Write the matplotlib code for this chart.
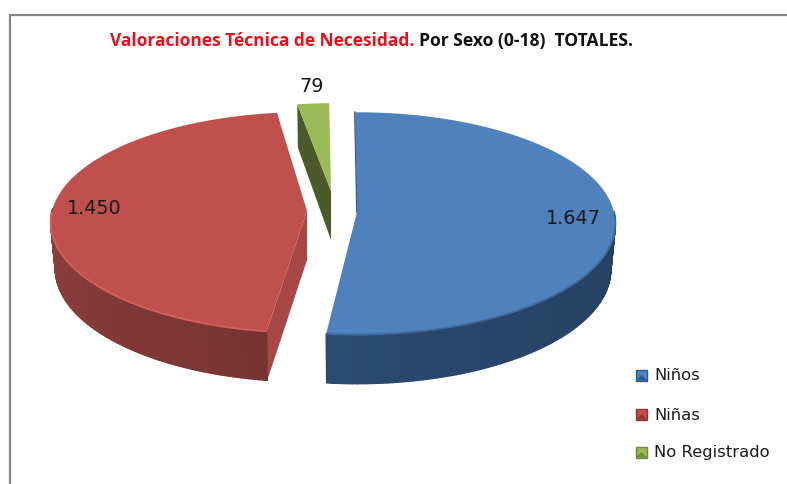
import numpy as np
import matplotlib
matplotlib.use('Agg')
import matplotlib.pyplot as plt
from matplotlib.collections import PolyCollection
from matplotlib.colors import to_rgb
from matplotlib.patches import Polygon, Rectangle

# Data
categories = ['Niños', 'Niñas', 'No Registrado']
values = [1647, 1450, 79]

# Look of each slice: top, radial face, side at both ends of the arc, rim
top_colors = ['#4f81bd', '#c0504d', '#9bbb59']
face_colors = ['#2a4a70', '#a64846', '#4a5a28']
side_start = ['#1e3450', '#773433', '#4a5a28']
side_end = ['#2b4a70', '#a54a48', '#4a5a28']
rim_colors = ['#41699a', '#d2625e', '#9bbb59']

# Exploded apex of each slice in pixels, radius scale, small angle twist
apex_x = [357, 307, 331]
apex_y = [212, 211, 191]
radius_scale = [1.0, 0.992, 0.88]
twist = [0.0, 2.0, 0.0]

start_angle = -0.5
R = 257
A = 110.0
K = 0.103
DEPTH = 46
BASE_SHRINK = 0.982


def ring(theta, ax0, ay0, scale):
    # clockwise from the top, simple perspective towards the viewer
    u = np.sin(theta)
    v = -np.cos(theta)
    s = 1 / (1 - K * v)
    return ax0 + scale * R * u * s, ay0 + scale * A * v * s, DEPTH * s, v


fig = plt.figure(figsize=(7.87, 4.84), dpi=100)
ax = fig.add_axes([0, 0, 1, 1])
ax.set_xlim(0, 787)
ax.set_ylim(484, 0)
ax.axis('off')

# Frame
ax.plot([10, 10, 787], [484, 15, 15], color='#868686', lw=1.6, solid_joinstyle='miter')

total = sum(values)
spans = np.array(values) / total * 360
starts = start_angle + np.concatenate([[0], np.cumsum(spans)[:-1]])

# back slice first
for i in [2, 1, 0]:
    z = i * -3 + 10
    a0 = np.radians(starts[i] + twist[i])
    a1 = np.radians(starts[i] + spans[i] + twist[i])
    th = np.linspace(a0, a1, 181)
    x, y, d, v = ring(th, apex_x[i], apex_y[i], radius_scale[i])
    # base ring sits a little inside the top ring
    bx = apex_x[i] + (x - apex_x[i]) * BASE_SHRINK
    by = apex_y[i] + (y - apex_y[i]) * BASE_SHRINK + d

    # radial faces
    if i == 0:
        ax.plot([apex_x[i], x[0]], [apex_y[i], y[0]], color=face_colors[i], lw=1.2, zorder=z)
    else:
        ax.add_patch(Polygon([(apex_x[i], apex_y[i]), (x[0], y[0]), (bx[0], by[0]),
                              (apex_x[i], apex_y[i] + DEPTH + 3)],
                             fc=face_colors[i], ec='none', zorder=z))

    # outer wall
    quads = []
    cols = []
    c0 = np.array(to_rgb(side_start[i]))
    c1 = np.array(to_rgb(side_end[i]))
    for j in range(len(th) - 1):
        if v[j] < -0.02:
            continue
        quads.append([(x[j], y[j]), (x[j + 1], y[j + 1]), (bx[j + 1], by[j + 1]), (bx[j], by[j])])
        f = j / (len(th) - 2)
        cols.append(c0 + (c1 - c0) * f)
    if i != 2:
        ax.add_collection(PolyCollection(quads, facecolors=cols, edgecolors=cols, linewidths=1.0,
                                         zorder=z + 0.5))

    # top
    pts = [(apex_x[i], apex_y[i])] + list(zip(x, y))
    ax.add_patch(Polygon(pts, fc=top_colors[i], ec='none', zorder=z + 1))

    # light rim along the front edge
    if i != 2:
        front = v > 0.0
        ax.plot(x[front], y[front], color=rim_colors[i], lw=1.3, zorder=z + 1.5,
                solid_capstyle='butt')

# Title
ax.text(110, 41, 'Valoraciones Técnica de Necesidad.', color='#e8101c', fontsize=12.5,
        fontweight='bold', family='Open Sans', va='center', ha='left', zorder=20)
ax.text(419, 41, 'Por Sexo (0-18)  TOTALES.', color='#111111', fontsize=12.6,
        fontweight='bold', family='Open Sans', va='center', ha='left', zorder=20)

# Data labels
label_x = [573, 94, 312]
label_y = [218, 208, 86]
for i, val in enumerate(values):
    ax.text(label_x[i], label_y[i], f'{val:,}'.replace(',', '.'), color='#1a1a1a', fontsize=13.8,
            family='DejaVu Sans', va='center', ha='center', zorder=20)

# Legend
legend_y = [375, 414, 452]
swatch_mid = ['#2f5a8c', '#8e3533', '#6f8a3a']
for i, name in enumerate(categories):
    ax.add_patch(Rectangle((636, legend_y[i] - 5.5), 11, 11, fc=top_colors[i], ec=swatch_mid[i],
                           lw=1, zorder=20))
    ax.add_patch(Polygon([(636, legend_y[i] + 5.5), (641.5, legend_y[i]), (647, legend_y[i] + 5.5)],
                         fc=swatch_mid[i], ec='none', zorder=21))
    ax.text(654, legend_y[i] + 5.5, name, color='#1a1a1a', fontsize=11.8, family='DejaVu Sans',
            va='baseline', ha='left', zorder=20)

fig.savefig('out.png', dpi=100, facecolor='white')
